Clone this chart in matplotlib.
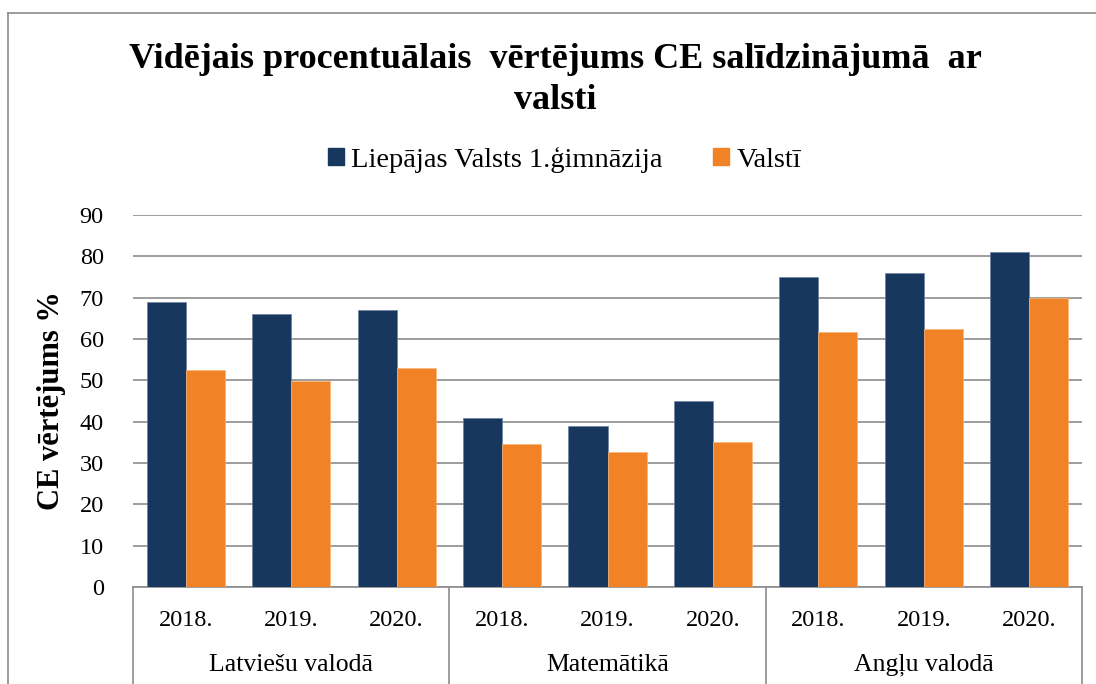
import matplotlib.pyplot as plt
from matplotlib.patches import Patch
from matplotlib.lines import Line2D
import numpy as np

plt.rcParams['font.family'] = ['Liberation Serif', 'DejaVu Serif']

subjects = ["Latviešu valodā", "Matemātikā", "Angļu valodā"]
years = ["2018.", "2019.", "2020."]
school = [69, 66, 67, 41, 39, 45, 75, 76, 81]
country = [52.6, 49.9, 53.0, 34.6, 32.7, 35.1, 61.6, 62.5, 70.0]
series_names = ["Liepājas Valsts 1.ģimnāzija", "Valstī"]

navy = "#17375E"
orange = "#F28226"
grid_c = "#8C8C8C"

fig = plt.figure(figsize=(10.96, 6.84), dpi=100)
ax = fig.add_axes([133 / 1096, 97 / 684, 949 / 1096, 372 / 684])

x = np.arange(len(school))
w = 0.37
ax.bar(x - w / 2, school, w, color=navy, edgecolor="#6A83A3", linewidth=0.5, zorder=3)
ax.bar(x + w / 2, country, w, color=orange, edgecolor="#F8B57A", linewidth=0.5, zorder=3)

ax.set_xlim(-0.5, len(school) - 0.5)
ax.set_ylim(0, 90)
ax.set_yticks(range(0, 91, 10))
ax.grid(axis="y", color=grid_c, linewidth=1.2, zorder=0)
for s in ["top", "right", "left"]:
    ax.spines[s].set_visible(False)
ax.spines["bottom"].set_color(grid_c)
ax.spines["bottom"].set_linewidth(1.2)
ax.tick_params(axis="y", length=0, pad=21, labelsize=17.5)
ax.tick_params(axis="x", length=0, labelbottom=False)

# two-level category axis
tr = ax.get_xaxis_transform()
for i in x:
    ax.text(i, -0.089, years[i % 3], transform=tr, ha="center", va="center", fontsize=17.5)
for g, name in enumerate(subjects):
    ax.text(g * 3 + 1, -0.21, name, transform=tr, ha="center", va="center", fontsize=18.5)
for sx in [-0.5, 2.5, 5.5, 8.5]:
    ax.add_line(Line2D([sx, sx], [0, -0.27], transform=tr, color=grid_c, lw=1.2, clip_on=False))

ax.set_ylabel("CE vērtējums %", fontsize=22, fontweight="bold", labelpad=10)

fig.text(0.507, 1 - 80 / 684,
         "Vidējais procentuālais  vērtējums CE salīdzinājumā  ar\nvalsti",
         ha="center", va="center", fontsize=26, fontweight="bold", linespacing=1.32)

handles = [Patch(color=navy), Patch(color=orange)]
fig.legend(handles, series_names, loc="center", bbox_to_anchor=(0.515, 1 - 160 / 684),
           ncol=2, frameon=False, fontsize=20.5, handlelength=0.55, handleheight=0.55,
           handletextpad=0.25, columnspacing=1.8)

# chart area border (left and top visible)
fig.add_artist(Line2D([8 / 1096, 8 / 1096], [0, 1 - 13 / 684], color=grid_c, lw=1.2))
fig.add_artist(Line2D([8 / 1096, 1], [1 - 13 / 684, 1 - 13 / 684], color=grid_c, lw=1.2))

fig.savefig("out.png", dpi=100)
